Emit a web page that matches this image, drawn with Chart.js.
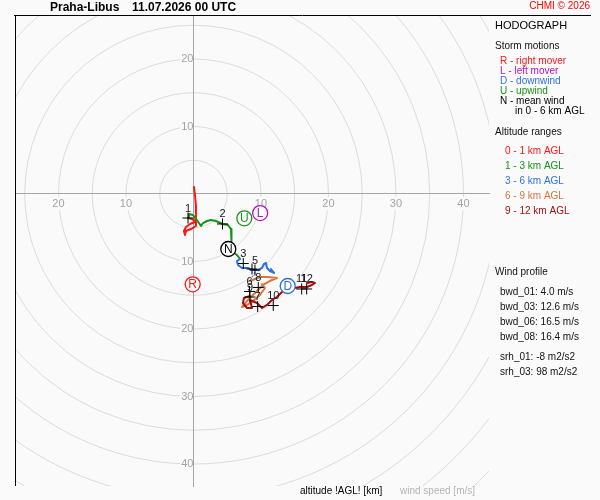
<!DOCTYPE html>
<html>
<head>
<meta charset="utf-8">
<title>Hodograph Praha-Libus</title>
<script src="https://cdn.jsdelivr.net/npm/chart.js@4.4.1/dist/chart.umd.min.js"></script>
<style>
  html, body { margin: 0; padding: 0; background: #fafafa; overflow: hidden; }
  canvas { display: block; }
</style>
</head>
<body>
<canvas id="hodo" width="600" height="500"></canvas>
<script>
// hodograph trace, [u, v] in m/s, one array per altitude range
const trace0to1 = [[0.07, 1.04], [0.22, -0.15], [0.37, -1.78], [0.37, -3.41], [0.22, -4.15], [-0.52, -4.44],
    [-1.11, -4.89], [-1.41, -5.48], [-1.26, -6.07], [-1.11, -5.48], [-0.37, -5.19], [0.37, -4.74],
    [0.37, -4.15], [-0.22, -3.70], [-0.81, -3.56]];
const trace1to3 = [[-0.81, -3.56], [-0.67, -2.96], [-0.07, -3.11], [0.37, -3.70], [0.81, -4.3], [1.11, -4.74],
    [1.41, -4.3], [2.0, -4.0], [2.59, -3.85], [3.33, -4.0], [4.30, -4.44], [5.11, -4.59], [5.56, -5.19],
    [5.70, -6.07], [5.56, -6.96], [5.41, -7.85], [5.85, -8.59], [6.44, -9.04], [6.89, -9.63]];
const trace3to6 = [[6.89, -9.63], [6.44, -9.93], [6.59, -10.52], [7.19, -10.96], [8.07, -10.96], [8.67, -11.26],
    [9.56, -11.26], [10.15, -10.96], [10.44, -10.37], [10.74, -10.22], [10.89, -10.96], [11.33, -11.41],
    [11.93, -11.70], [11.48, -11.11]];
const trace6to9 = [[8.37, -12.89], [9.85, -12.30], [11.04, -12.30], [12.37, -12.44], [11.63, -12.74],
    [10.30, -13.48], [9.56, -14.22], [8.81, -14.96], [8.07, -15.70], [7.19, -16.74], [7.93, -16.44],
    [8.67, -16.0], [9.85, -14.96], [10.59, -13.93], [10.15, -13.33]];
const trace9to12 = [[8.37, -15.11], [7.48, -15.41], [7.33, -16.15], [7.93, -16.89], [8.67, -16.89],
    [8.37, -15.70], [9.41, -16.15], [10.15, -16.89], [10.89, -16.44], [11.63, -15.70], [12.37, -15.26],
    [13.11, -14.52]];
const trace9to12b = [[14.89, -13.93], [15.78, -13.78], [16.81, -13.78], [17.56, -13.48], [18.0, -13.19],
    [17.56, -13.04], [16.81, -13.19]];
// missing levels, drawn dashed
const gap3to6 = [[9.11, -11.56], [8.37, -12.89]];
const gap9to12 = [[13.11, -14.52], [14.89, -13.93]];

// height markers every km
const kmLabels = ['1', '2', '3', '', '5', '6', '7', '8', '9', '10', '11', '12'];
const kmU = [-0.81, 4.30, 7.38, 8.67, 9.11, 8.30, 9.51, 9.60, 8.37, 11.82, 16.03, 16.77];
const kmV = [-3.56, -4.44, -10.30, -11.11, -11.26, -14.44, -16.67, -13.85, -15.26, -16.52, -14.07, -14.07];

// storm motions
const stormKeys = ['R', 'L', 'D', 'U', 'N'];
const stormU = [-0.12, 9.88, 13.96, 7.53, 5.16];
const stormV = [-13.38, -2.82, -13.63, -3.60, -8.15];

// axes
const xTicks = [-20, -10, 10, 20, 30, 40];
const yTicks = [-40, -30, -20, -10, 10, 20];
const ringSpeeds = [5, 10, 15, 20, 25, 30, 35, 40, 45, 50, 55, 60, 65, 70];

// side panel texts
const stormLegend = ['R - right mover', 'L - left mover', 'D - downwind', 'U - upwind', 'N - mean wind'];
const altLegend = ['0 - 1 km AGL', '1 - 3 km AGL', '3 - 6 km AGL', '6 - 9 km AGL', '9 - 12 km AGL'];
const bwdLines = ['bwd_01: 4.0 m/s', 'bwd_03: 12.6 m/s', 'bwd_06: 16.5 m/s', 'bwd_08: 16.4 m/s'];
const srhLines = ['srh_01: -8 m2/s2', 'srh_03: 98 m2/s2'];

const ALT_COLORS = ['#ff1414', '#179117', '#2f6fe3', '#d8743f', '#a30f0f'];
const STORM_COLORS = ['#ff1414', '#b810c8', '#2f6fe3', '#179117', '#000000'];
const BG = '#fafafa';
const FONT = '"Liberation Sans", Arial, sans-serif';

const pts = arr => arr.map(p => ({x: p[0], y: p[1]}));

function traceSet(arr, color, order) {
    return {
        data: pts(arr), showLine: true, pointRadius: 0, borderColor: color, borderWidth: 2,
        borderJoinStyle: 'round', borderCapStyle: 'round', tension: 0, order: order
    };
}

function gapSet(arr, color) {
    return {
        data: pts(arr), showLine: true, pointRadius: 0, borderColor: color, borderWidth: 1,
        borderDash: [2, 2], order: 8
    };
}

function text(ctx, s, x, y, color, font, align) {
    ctx.font = font;
    ctx.fillStyle = color;
    ctx.textAlign = align || 'left';
    ctx.textBaseline = 'middle';
    ctx.fillText(s, x, y);
}

const hodoDecor = {
    id: 'hodoDecor',
    beforeDraw(chart) {
        const {ctx, chartArea: a, scales: {x, y}} = chart;
        ctx.save();
        ctx.fillStyle = BG;
        ctx.fillRect(0, 0, chart.width, chart.height);
        ctx.beginPath();
        ctx.rect(a.left, a.top, a.right - a.left, a.bottom - a.top);
        ctx.clip();
        const cx = x.getPixelForValue(0);
        const cy = y.getPixelForValue(0);
        ctx.strokeStyle = '#dcdcdc';
        ctx.lineWidth = 1;
        ringSpeeds.forEach(s => {
            const r = x.getPixelForValue(s) - cx;
            ctx.beginPath();
            ctx.arc(cx, cy, r, 0, Math.PI * 2);
            ctx.stroke();
        });
        ctx.restore();
    },
    afterDraw(chart) {
        const {ctx, scales: {x, y}} = chart;
        ctx.save();

        // frame
        ctx.strokeStyle = '#000';
        ctx.lineWidth = 1;
        ctx.beginPath();
        ctx.moveTo(15.5, 15);
        ctx.lineTo(15.5, 486);
        ctx.moveTo(14, 15.5);
        ctx.lineTo(591, 15.5);
        ctx.stroke();

        // km labels
        kmLabels.forEach((lab, i) => {
            if (!lab) return;
            text(ctx, lab, x.getPixelForValue(kmU[i]), y.getPixelForValue(kmV[i]) - 9.5, '#1a1a1a', '11px ' + FONT, 'center');
        });

        // storm motion letters
        stormKeys.forEach((k, i) => {
            text(ctx, k, x.getPixelForValue(stormU[i]), y.getPixelForValue(stormV[i]) + 0.5, STORM_COLORS[i], '12px ' + FONT, 'center');
        });

        // title
        text(ctx, 'Praha-Libus', 50, 7.5, '#000', 'bold 12px ' + FONT);
        text(ctx, '11.07.2026 00 UTC', 132, 7.5, '#000', 'bold 12px ' + FONT);
        text(ctx, 'CHMI \u00a9 2026', 590, 6.5, '#ff0000', '10px ' + FONT, 'right');

        // side panel
        text(ctx, 'HODOGRAPH', 495, 26, '#000', '11px ' + FONT);
        text(ctx, 'Storm motions', 495, 46.5, '#111', '10px ' + FONT);
        stormLegend.forEach((s, i) => text(ctx, s, 500, 61.5 + i * 10, STORM_COLORS[i], '10px ' + FONT));
        text(ctx, 'in 0 - 6 km AGL', 515, 111.5, '#000', '10px ' + FONT);
        text(ctx, 'Altitude ranges', 495, 132, '#111', '10px ' + FONT);
        altLegend.forEach((s, i) => text(ctx, s, 505, 151.5 + i * 15, ALT_COLORS[i], '10px ' + FONT));
        text(ctx, 'Wind profile', 495, 272.5, '#111', '10px ' + FONT);
        bwdLines.forEach((s, i) => text(ctx, s, 500, 292 + i * 15, '#111', '10px ' + FONT));
        srhLines.forEach((s, i) => text(ctx, s, 500, 357 + i * 15, '#111', '10px ' + FONT));

        // bottom captions
        text(ctx, 'altitude !AGL! [km]', 300, 491.5, '#000', '10px ' + FONT);
        text(ctx, 'wind speed [m/s]', 400, 491.5, '#b4b4b4', '10px ' + FONT);
        ctx.restore();
    }
};

const datasets = [
    {
        data: stormU.map((u, i) => ({x: u, y: stormV[i]})), pointStyle: 'circle', pointRadius: 7.5,
        pointBackgroundColor: '#ffffff', pointBorderColor: STORM_COLORS, pointBorderWidth: 1.3, order: 0
    },
    {
        data: kmU.map((u, i) => ({x: u, y: kmV[i]})), pointStyle: 'cross', pointRadius: 5.5,
        pointBorderColor: '#000', pointBorderWidth: 1, order: 1
    },
    traceSet(trace9to12, ALT_COLORS[4], 2),
    traceSet(trace9to12b, ALT_COLORS[4], 2),
    traceSet(trace6to9, ALT_COLORS[3], 3),
    traceSet(trace3to6, ALT_COLORS[2], 4),
    traceSet(trace1to3, ALT_COLORS[1], 5),
    traceSet(trace0to1, ALT_COLORS[0], 6),
    gapSet(gap3to6, ALT_COLORS[2]),
    gapSet(gap9to12, ALT_COLORS[4])
];

const tickFont = {family: FONT, size: 11};

new Chart(document.getElementById('hodo'), {
    type: 'scatter',
    data: {datasets: datasets},
    options: {
        responsive: false,
        animation: false,
        devicePixelRatio: 1,
        events: [],
        layout: {padding: {left: 15, top: 16, right: 111, bottom: 14}},
        plugins: {legend: {display: false}, tooltip: {enabled: false}},
        scales: {
            x: {
                type: 'linear', position: {y: 0}, min: -26.44, max: 43.78,
                grid: {display: false, drawTicks: false},
                border: {display: true, color: '#a6a6a6', width: 1},
                afterBuildTicks: s => { s.ticks = xTicks.map(v => ({value: v})); },
                ticks: {
                    autoSkip: false, maxRotation: 0, padding: 3, color: '#a3a3a3', font: tickFont,
                    showLabelBackdrop: true, backdropColor: BG,
                    backdropPadding: {top: 0, bottom: 0, left: 1, right: 1},
                    callback: v => Math.abs(v)
                }
            },
            y: {
                type: 'linear', position: {x: 0}, min: -43.26, max: 26.37,
                grid: {display: false, drawTicks: false},
                border: {display: true, color: '#a6a6a6', width: 1},
                afterBuildTicks: s => { s.ticks = yTicks.map(v => ({value: v})); },
                ticks: {
                    autoSkip: false, padding: 1, color: '#a3a3a3', font: tickFont,
                    showLabelBackdrop: true, backdropColor: BG,
                    backdropPadding: {top: 0, bottom: 0, left: 1, right: -1},
                    callback: v => Math.abs(v)
                }
            }
        }
    },
    plugins: [hodoDecor]
});
</script>
</body>
</html>
